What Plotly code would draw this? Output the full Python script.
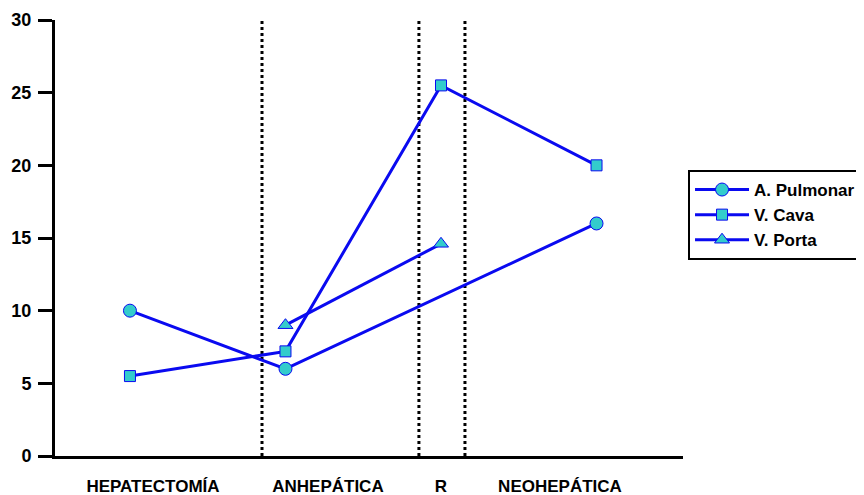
import plotly.graph_objects as go

# Data
phase_labels = ["HEPATECTOMÍA", "ANHEPÁTICA", "R", "NEOHEPÁTICA"]
phase_label_pos = [1.148, 2.273, 3.0, 3.765]
separator_pos = [1.849, 2.858, 3.154]

pulmonar_x = [1, 2, 4]
pulmonar_y = [10, 6, 16]
cava_x = [1, 2, 3, 4]
cava_y = [5.5, 7.2, 25.5, 20]
porta_x = [2, 3]
porta_y = [9, 14.6]

y_ticks = [0, 5, 10, 15, 20, 25, 30]

LINE = "#0A0AF0"
FILL = "#33CCCC"
FONT = "Liberation Sans, Arial, sans-serif"

fig = go.Figure()
series = [
    ("A. Pulmonar", pulmonar_x, pulmonar_y, "circle", 13),
    ("V. Cava", cava_x, cava_y, "square", 11),
    ("V. Porta", porta_x, porta_y, "triangle-up", 13),
]
for name, xs, ys, sym, sz in series:
    fig.add_trace(go.Scatter(
        x=xs, y=ys, name=name, mode="lines+markers",
        line=dict(color=LINE, width=3),
        marker=dict(symbol=sym, size=sz, color=FILL, line=dict(color=LINE, width=1)),
    ))

for sx in separator_pos:
    fig.add_shape(type="line", xref="x", yref="y", x0=sx, x1=sx, y0=0, y1=30,
                  line=dict(color="black", width=3, dash="dot"), layer="below")

fig.update_layout(
    width=856, height=487,
    margin=dict(l=47, r=181, t=12, b=39, autoexpand=False),
    paper_bgcolor="white", plot_bgcolor="white",
    font=dict(family=FONT, color="black"),
    showlegend=True,
    legend=dict(
        x=1.008, y=0.656, xanchor="left", yanchor="top",
        bordercolor="black", borderwidth=2, bgcolor="white",
        font=dict(family=FONT, size=17, color="black", weight="bold"),
        tracegroupgap=0, itemwidth=54,
    ),
    xaxis=dict(
        range=[0.518, 4.556], showgrid=False, zeroline=False, automargin=False,
        showline=True, linecolor="black", linewidth=3,
        tickvals=phase_label_pos, ticktext=phase_labels, ticks="",
        tickfont=dict(family=FONT, size=17, color="black", weight="bold"),
        ticklabelstandoff=13,
    ),
    yaxis=dict(
        range=[0, 30], showgrid=False, zeroline=False, automargin=False,
        showline=True, linecolor="black", linewidth=3,
        tickvals=y_ticks, ticks="outside", ticklen=14, tickwidth=3, tickcolor="black",
        tickfont=dict(family=FONT, size=18, color="black", weight="bold"),
        ticklabelstandoff=3,
    ),
)

fig.write_html("out.html")
